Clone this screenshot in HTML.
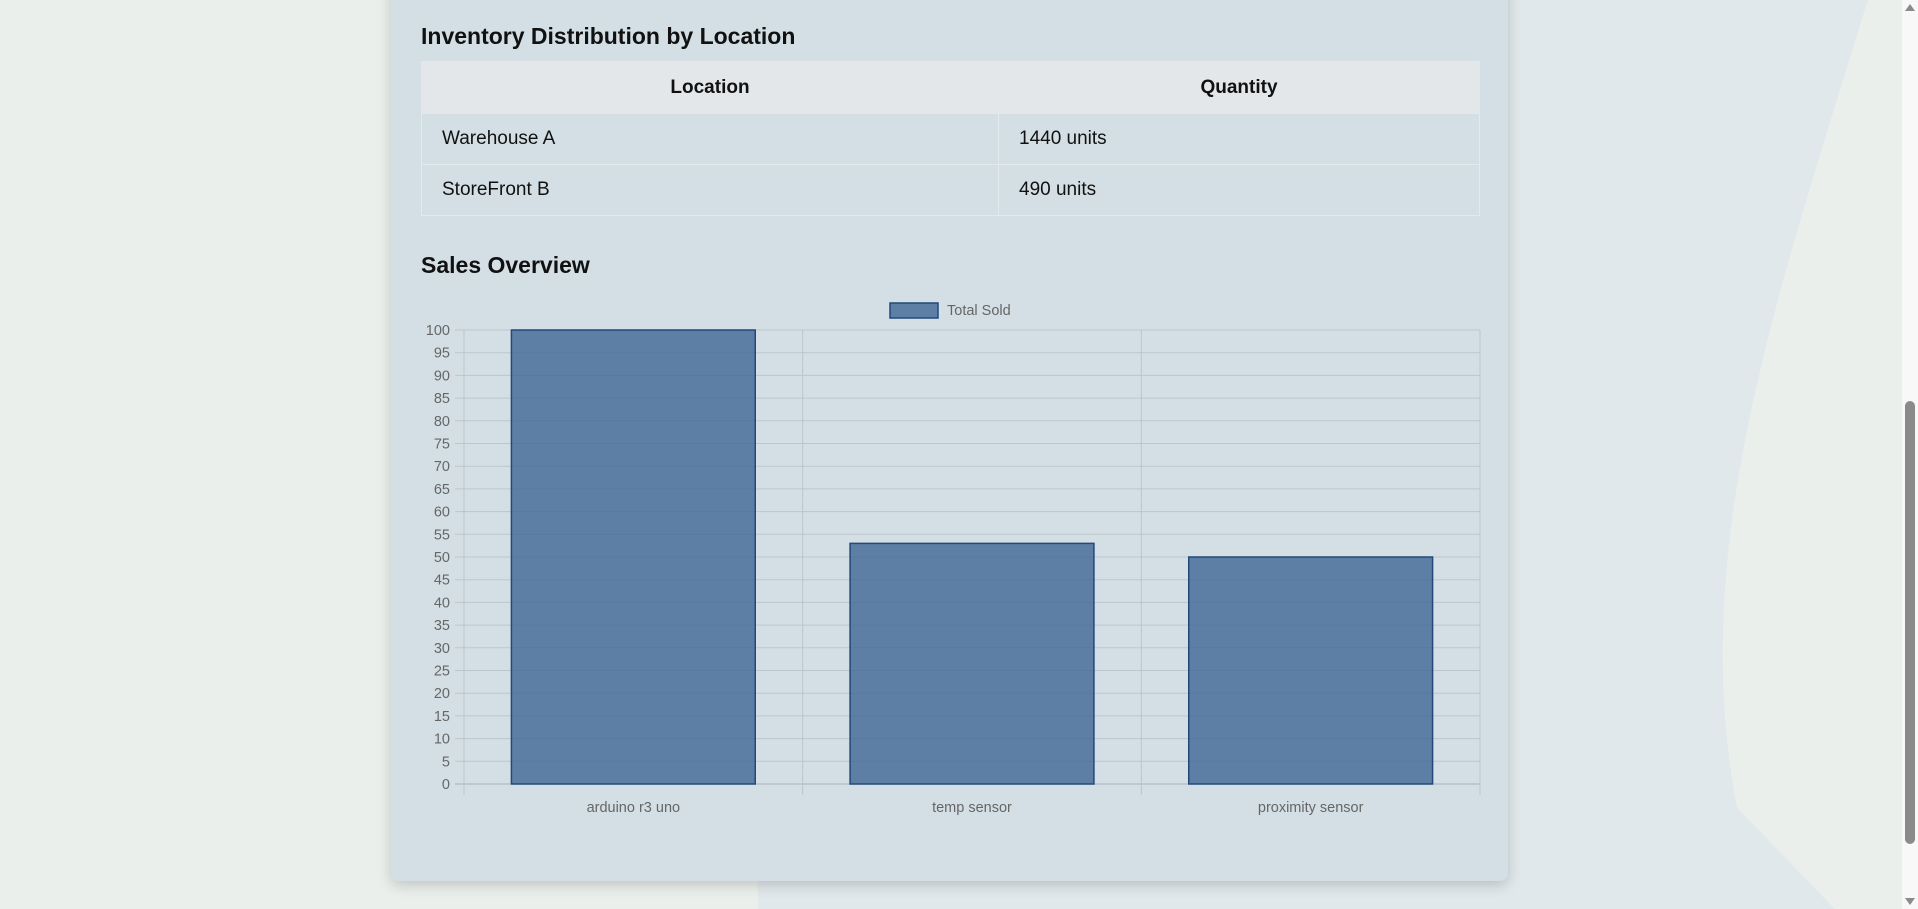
<!DOCTYPE html>
<html><head><meta charset="utf-8">
<style>
html,body{margin:0;padding:0;width:1918px;height:909px;overflow:hidden;background:#eaefeb;font-family:"Liberation Sans",sans-serif;}
#bg{position:absolute;left:0;top:0;width:1918px;height:909px}
.card{position:absolute;left:391px;top:-20px;width:1117px;height:901px;background:#d4dfe5;border-radius:8px;box-shadow:0 4px 14px rgba(0,0,0,0.18);}
h2{position:absolute;margin:0;font-size:23px;font-weight:bold;color:#111;left:30px;}
table{position:absolute;left:30px;top:81px;width:1059px;border-collapse:collapse;font-size:19px;color:#111}
th{background:#e4e7ea;height:51px;padding:0;font-weight:bold;text-align:center;border:1px solid #e4e7ea}
td{height:50px;padding:0 20px;border:1px solid #e3eaee}
#chart{position:absolute;left:0;top:0}
.sb{position:absolute;left:1902px;top:0;width:16px;height:909px;background:#f8f8f8}
</style></head><body>
<svg id="bg" viewBox="0 0 1568 743" preserveAspectRatio="none"><path d="M600 0 L1527 0 C1450 250 1380 450 1420 660 L1500 743 L620 743 Z" fill="#e0e8eb"/></svg>
<div class="card">
  <h2 style="top:43px">Inventory Distribution by Location</h2>
  <table>
    <tr><th style="width:576px">Location</th><th>Quantity</th></tr>
    <tr><td>Warehouse A</td><td>1440 units</td></tr>
    <tr><td>StoreFront B</td><td>490 units</td></tr>
  </table>
  <h2 style="top:272px">Sales Overview</h2>
</div>
<svg id="chart" width="1918" height="909"></svg>
<div class="sb">
  <div style="position:absolute;left:3px;top:4px;width:0;height:0;border-left:5px solid transparent;border-right:5px solid transparent;border-bottom:7px solid #8a8a8a"></div>
  <div style="position:absolute;left:3px;top:401px;width:10px;height:443px;background:#8a8a8a;border-radius:5px"></div>
  <div style="position:absolute;left:3px;top:898px;width:0;height:0;border-left:5px solid transparent;border-right:5px solid transparent;border-top:7px solid #8a8a8a"></div>
</div>
<script>
const categories=["arduino r3  uno","temp sensor","proximity sensor"];
const totalSold=[100,53,50];
const yTicks=[0,5,10,15,20,25,30,35,40,45,50,55,60,65,70,75,80,85,90,95,100];
const NS="http://www.w3.org/2000/svg";
const svg=document.getElementById('chart');
const L=464,R=1480,T=330,B=784,yMax=100;
const y=v=>B-(v/yMax)*(B-T);
const bw=(R-L)/categories.length;
const x=i=>L+i*bw;
function mk(t,a){const e=document.createElementNS(NS,t);for(const k in a)e.setAttribute(k,a[k]);svg.appendChild(e);return e;}
yTicks.forEach(v=>{
  const g=mk('line',{x1:455,x2:R,y1:y(v),y2:y(v),stroke:v===0?'#a9b2b8':'#bcc5cb','stroke-width':1});
  
  
  const t=mk('text',{x:450,y:y(v)+5,'text-anchor':'end','font-size':14.5,fill:'#666','font-family':'Liberation Sans, sans-serif'});
  t.textContent=v;
  
  
});
for(let i=0;i<=categories.length;i++){
  const g=mk('line',{x1:x(i),x2:x(i),y1:T,y2:B+11,stroke:'#bcc5cb','stroke-width':1});
  
  
}
categories.forEach((c,i)=>{
  const w=bw*0.72,cx=x(i)+bw/2;
  const r=mk('rect',{x:cx-w/2,y:y(totalSold[i]),width:w,height:B-y(totalSold[i]),fill:'rgba(60,100,148,0.78)',stroke:'#23497a','stroke-width':1.5});
  
  
  const t=mk('text',{x:cx,y:812,'text-anchor':'middle','font-size':14.5,fill:'#666','font-family':'Liberation Sans, sans-serif','xml:space':'preserve'});
  t.textContent=c;
  
  
});
const lb=mk('rect',{x:890,y:303,width:48,height:15,fill:'rgba(60,100,148,0.78)',stroke:'#23497a','stroke-width':1.5});


const lt=mk('text',{x:947,y:315,'font-size':14.5,fill:'#666','font-family':'Liberation Sans, sans-serif'});
lt.textContent='Total Sold';


</script>
</body></html>
